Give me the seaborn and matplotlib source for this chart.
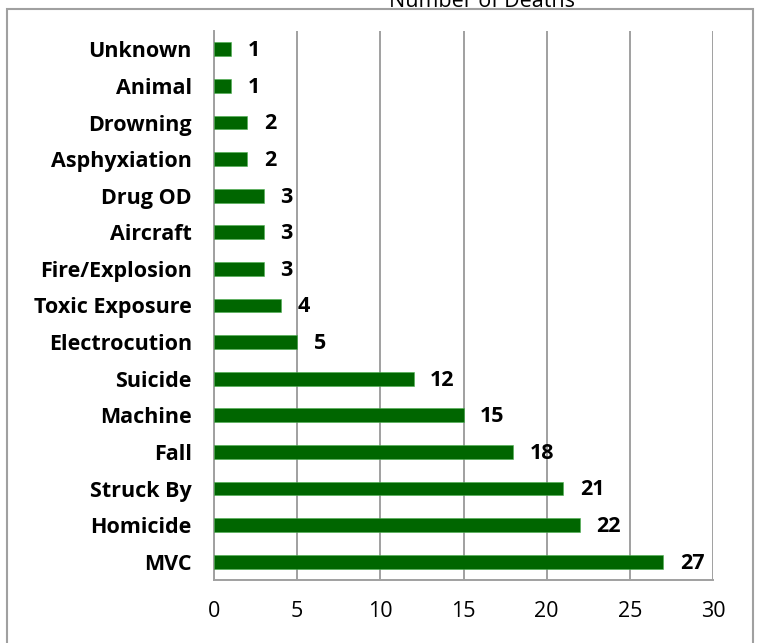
import matplotlib
matplotlib.use("Agg")
import matplotlib.pyplot as plt
from matplotlib.patches import Rectangle
import pandas as pd
import seaborn as sns

causes = ["Unknown", "Animal", "Drowning", "Asphyxiation", "Drug OD", "Aircraft",
          "Fire/Explosion", "Toxic Exposure", "Electrocution", "Suicide", "Machine",
          "Fall", "Struck By", "Homicide", "MVC"]
deaths = [1, 1, 2, 2, 3, 3, 3, 4, 5, 12, 15, 18, 21, 22, 27]
x_ticks = [0, 5, 10, 15, 20, 25, 30]

df = pd.DataFrame({"cause": causes, "deaths": deaths})

sns.set_style("white")
plt.rcParams['font.family'] = ['Open Sans', 'DejaVu Sans']
plt.rcParams['text.color'] = 'black'
plt.rcParams['xtick.labelcolor'] = 'black'
plt.rcParams['ytick.labelcolor'] = 'black'

fig = plt.figure(figsize=(7.57, 6.43), dpi=100)
ax = fig.add_axes([214 / 757, 1 - 580 / 643, 499 / 757, 549 / 643])

sns.barplot(data=df, y="cause", x="deaths", orient="h", color="#006600",
            width=0.38, edgecolor="#4caf50", linewidth=0.4, saturation=1,
            ax=ax, zorder=3)

ax.set_xlim(0, 30)
ax.set_ylim(len(causes) - 0.5, -0.5)
ax.set_xticks(x_ticks)
ax.set_xticklabels([str(t) for t in x_ticks], fontsize=15.5)
ax.set_xlabel("")
ax.set_ylabel("")
ax.grid(axis="x", color="#a0a0a0", linewidth=1.4, zorder=0)
ax.grid(axis="y", visible=False)

# category labels, boundary ticks on y axis
ax.set_yticks(range(len(causes)))
ax.set_yticklabels(causes, fontsize=15.5, fontweight="bold")
ax.set_yticks([i - 0.5 for i in range(len(causes) + 1)], minor=True)
ax.tick_params(axis="y", which="major", length=0, pad=16)
ax.tick_params(axis="y", which="minor", length=5, color="#a0a0a0", width=1.4, direction="out")
ax.tick_params(axis="x", which="major", length=5, color="#a0a0a0", width=1.4,
               direction="out", pad=10)

for s in ["top", "right"]:
    ax.spines[s].set_visible(False)
for s in ["left", "bottom"]:
    ax.spines[s].set_color("#a0a0a0")
    ax.spines[s].set_linewidth(1.4)

for i, v in enumerate(deaths):
    ax.annotate(str(v), (v, i), xytext=(12, -1), textcoords="offset points",
                ha="left", va="center", fontsize=15.5, fontweight="bold")

# outer chart frame and partially visible title
fig.patches.append(Rectangle((7 / 757, -0.1), 746 / 757, 1 - 9 / 643 + 0.1,
                             transform=fig.transFigure, fill=False,
                             edgecolor="#a0a0a0", linewidth=1.5))
fig.text(482 / 757, 1 - 7 / 643, "Number of Deaths", ha="center", va="baseline",
         fontsize=15.5)

fig.savefig("out.png", dpi=100)
